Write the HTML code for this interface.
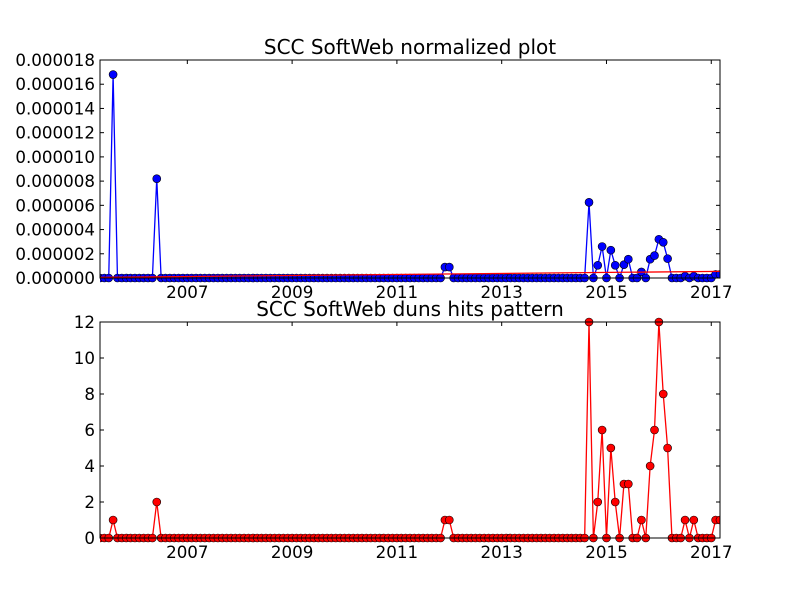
<!DOCTYPE html>
<html><head><meta charset="utf-8"><style>
html,body{margin:0;padding:0;background:#fff;}
svg{display:block;font-family:"DejaVu Sans","Liberation Sans",sans-serif;}
</style></head><body>
<svg id="chart" width="800" height="600" viewBox="0 0 800 600"></svg>
<script>
// Monthly data: May 2005 .. Feb 2017 (143 points)
const startYear = 2005, startMonth = 4; // 0-based month (May)
const nPoints = 143;
const hitsNonZero = [[3,1],[13,2],[79,1],[80,1],[112,12],[114,2],[115,6],[117,5],[118,2],[120,3],[121,3],[124,1],[126,4],[127,6],[128,12],[129,8],[130,5],[134,1],[136,1],[141,1],[142,1]];
const normNonZero = [[3,16.8],[13,8.2],[79,0.9],[80,0.9],[112,6.25],[114,1.05],[115,2.6],[117,2.3],[118,1.05],[120,1.1],[121,1.55],[124,0.5],[126,1.55],[127,1.85],[128,3.2],[129,2.95],[130,1.6],[134,0.15],[136,0.15],[141,0.3],[142,0.3]]; // units of 1e-6
const trendStart = 0.05, trendEnd = 0.55; // units of 1e-6
const xTickYears = [2007,2009,2011,2013,2015,2017];
const topTicks = ["0.000000","0.000002","0.000004","0.000006","0.000008","0.000010","0.000012","0.000014","0.000016","0.000018"];
const botTicks = ["0","2","4","6","8","10","12"];

const hits = new Array(nPoints).fill(0);
hitsNonZero.forEach(([i,v])=>hits[i]=v);
const norm = new Array(nPoints).fill(0);
normNonZero.forEach(([i,v])=>norm[i]=v);

const svg = document.getElementById('chart');
const NS = 'http://www.w3.org/2000/svg';
function el(tag, attrs, parent){const e=document.createElementNS(NS,tag);for(const k in attrs)e.setAttribute(k,attrs[k]);(parent||svg).appendChild(e);return e;}

const X0=100, X1=720;
function xIdx(i){return X0 + i*(X1-X0)/(nPoints-1);}
function xYear(y){const m=(y-startYear)*12 - startMonth;return xIdx(m);}

function panel(name, top, bottom, ymax, ticks, tickVal, data, color, title, titleY, trend){
  const g = el('g',{});
  
  
  const yS = v => bottom - v/ymax*(bottom-top);
  const clipId = name+'-clip';
  const cp = el('clipPath',{id:clipId},g);
  el('rect',{x:X0,y:top-6,width:X1-X0,height:bottom-top+12},cp);
  ticks.forEach((t,k)=>{
    const v = tickVal(k), y=yS(v);
    el('line',{x1:X0,x2:X0+4,y1:y,y2:y,stroke:'#000','stroke-width':1},g);
    el('line',{x1:X1-4,x2:X1,y1:y,y2:y,stroke:'#000','stroke-width':1},g);
    const tx = el('text',{x:X0-5,y:y+6,'text-anchor':'end','font-size':16.7,fill:'#000'},g);
    tx.textContent = t;
    
    
  });
  xTickYears.forEach(yr=>{
    const x = xYear(yr);
    el('line',{x1:x,x2:x,y1:bottom,y2:bottom-4,stroke:'#000','stroke-width':1},g);
    el('line',{x1:x,x2:x,y1:top,y2:top+4,stroke:'#000','stroke-width':1},g);
    const tx = el('text',{x:x,y:bottom+20,'text-anchor':'middle','font-size':16.7,fill:'#000'},g);
    tx.textContent = yr;
    
    
  });
  const dg = el('g',{'clip-path':'url(#'+clipId+')'},g);
  const pts = data.map((v,i)=>xIdx(i).toFixed(2)+','+yS(v).toFixed(2)).join(' ');
  const line = el('polyline',{points:pts,fill:'none',stroke:color,'stroke-width':1.3},dg);
  
  
  data.forEach((v,i)=>{
    const c = el('circle',{cx:xIdx(i),cy:yS(v),r:4,fill:color,stroke:'#000','stroke-width':0.6},dg);
    
    
  });
  if(trend){
    const tl = el('line',{x1:X0,y1:yS(trend[0]),x2:X1,y2:yS(trend[1]),stroke:'#ff0000','stroke-width':1.3},g);
    
    
  }
  el('rect',{x:X0,y:top,width:X1-X0,height:bottom-top,fill:'none',stroke:'#000','stroke-width':1},g);
  const tt = el('text',{x:(X0+X1)/2,y:titleY,'text-anchor':'middle','font-size':20,fill:'#000'},g);
  tt.textContent = title;
  
  
}
panel('normalized-plot',60,278,18,topTicks,k=>k*2,norm,'#0000ff','SCC SoftWeb normalized plot',54,[trendStart,trendEnd]);
panel('hits-plot',322,538,12,botTicks,k=>k*2,hits,'#ff0000','SCC SoftWeb duns hits pattern',316,null);
</script>
</body></html>
